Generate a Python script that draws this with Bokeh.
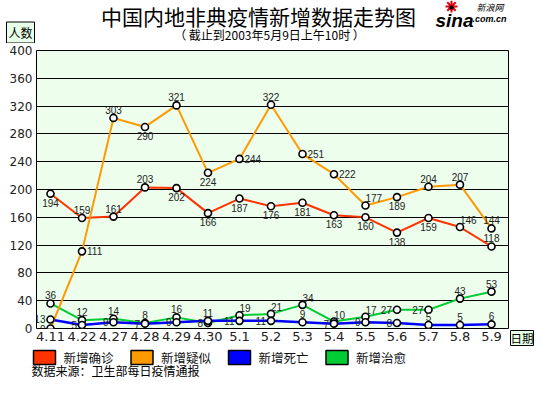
from bokeh.plotting import figure
from bokeh.layouts import column, row
from bokeh.models import Range1d, FixedTicker, Label, ColumnDataSource
from bokeh.embed import file_html
from bokeh.resources import INLINE
from bokeh.core.properties import value

# ---------------- data ----------------
dates = ["4.11", "4.22", "4.27", "4.28", "4.29", "4.30", "5.1", "5.2",
         "5.3", "5.4", "5.5", "5.6", "5.7", "5.8", "5.9"]
confirmed = [194, 159, 161, 203, 202, 166, 187, 176, 181, 163, 160, 138, 159, 146, 118]
suspected = [0, 111, 303, 290, 321, 224, 244, 322, 251, 222, 177, 189, 204, 207, 144]
deaths = [13, 5, 9, 7, 9, 11, 11, 11, 9, 7, 9, 8, 5, 5, 6]
recovered = [36, 12, 14, 8, 16, 8, 19, 21, 34, 10, 17, 27, 27, 43, 53]
y_ticks = [0, 40, 80, 120, 160, 200, 240, 280, 320, 360, 400]

series_names = ["新增确诊", "新增疑似", "新增死亡", "新增治愈"]
title_text = "中国内地非典疫情新增数据走势图"
subtitle_text = "（ 截止到2003年5月9日上午10时 ）"
source_text = "数据来源：卫生部每日疫情通报"
y_unit_text = "人数"
x_unit_text = "日期"

# value-label placement per point (style)
confirmed_pos = ["below", "above", "above", "above", "below", "below", "below", "below",
                 "below", "below", "below", "below", "below", "ar", "above"]
suspected_pos = ["left", "right", "above", "below", "above", "below", "right", "above",
                 "right", "right", "ar", "below", "above", "above", "above"]
deaths_pos = ["left", "left", "left", "left", "left", "above", "left", "left",
              "above", "left", "left", "left", "above", "above", "above"]
recovered_pos = ["above", "above", "above", "above", "above", "left", "ar", "ar",
                 "ar", "ar", "ar", "left", "left", "above", "above"]

colors = ["#FF3300", "#FF9900", "#0000FF", "#00CC33"]
BOX_FILL = "#E8FFE8"
TOTAL_W, TOTAL_H = 534, 379


def blank(width, height):
    f = figure(width=width, height=height, output_backend="svg", toolbar_location=None,
               x_range=Range1d(0, width), y_range=Range1d(height, 0),
               x_axis_type=None, y_axis_type=None,
               min_border=0, min_border_left=0, min_border_right=0,
               min_border_top=0, min_border_bottom=0)
    f.outline_line_color = None
    f.xgrid.visible = False
    f.ygrid.visible = False
    f.background_fill_color = "white"
    f.border_fill_color = "white"
    return f


def label(f, text, x, y, size, align="left", baseline="middle", font="Noto Sans CJK SC",
          style="normal", color="black", **kw):
    f.add_layout(Label(x=x, y=y, text=text, text_font_size=size, text_align=align,
                       text_baseline=baseline, text_font=font, text_font_style=style,
                       text_color=color, **kw))


# ---------------- header ----------------
HEAD_H = 43
head = blank(TOTAL_W, HEAD_H)
label(head, title_text, 258, 15, "21px", align="center")
label(head, subtitle_text, 269, 34, "12px", align="center")
label(head, y_unit_text, 20, 32, "12px", align="center", background_fill_color=BOX_FILL,
      border_line_color="black", padding=2)
# sina logo
head.scatter([451], [6], marker="asterisk", size=12, line_color="#E60012", line_width=2)
head.scatter([451], [7], marker="circle", size=5, fill_color="black", line_color="#E60012")
label(head, "sina", 435, 20, "19px", baseline="alphabetic", font="Liberation Sans",
      style="bold italic")
label(head, "新浪网", 476, 7, "9px", style="italic")
label(head, ".com.cn", 472, 18, "9px", baseline="alphabetic", font="Liberation Sans",
      style="bold italic")

# ---------------- main plot ----------------
FL, FR, FT, FB = 36, 1, 7, 20
FRAME_W, FRAME_H = 472, 278
MAIN_W, MAIN_H = FL + FRAME_W + FR, FT + FRAME_H + FB
p = figure(width=MAIN_W, height=MAIN_H, output_backend="svg", toolbar_location=None,
           x_range=Range1d(-0.444, 14.54), y_range=Range1d(0, 400),
           min_border_left=FL, min_border_right=FR, min_border_top=FT, min_border_bottom=FB)
p.background_fill_color = "#EDFEED"
p.border_fill_color = "white"
p.outline_line_color = "black"
p.outline_line_width = 1
p.xgrid.visible = False
p.ygrid.ticker = FixedTicker(ticks=y_ticks)
p.ygrid.grid_line_color = "black"
p.ygrid.grid_line_width = 1.2

p.yaxis.ticker = FixedTicker(ticks=y_ticks)
p.xaxis.ticker = FixedTicker(ticks=list(range(len(dates))))
p.xaxis.major_label_overrides = {i: d for i, d in enumerate(dates)}
for ax in (p.xaxis, p.yaxis):
    ax.axis_line_color = None
    ax.major_tick_line_color = None
    ax.minor_tick_line_color = None
    ax.major_tick_out = 0
    ax.major_tick_in = 0
    ax.major_label_text_font = "DejaVu Sans"
    ax.major_label_text_color = "#222222"
p.yaxis.major_label_text_font_size = "12px"
p.yaxis.major_label_standoff = 4
p.xaxis.major_label_text_font_size = "13px"
p.xaxis.major_label_standoff = 3

xs = list(range(len(dates)))
order = [3, 2, 0, 1]
all_vals = [confirmed, suspected, deaths, recovered]
all_pos = [confirmed_pos, suspected_pos, deaths_pos, recovered_pos]
widths = [2, 2, 2.5, 2]
for k in order:
    p.line(xs, all_vals[k], line_color=colors[k], line_width=widths[k])
for k in order:
    p.scatter(xs, all_vals[k], size=7, marker="circle", fill_color="white",
              line_color="black", line_width=1.6)

place = {
    "above": (0, -4, "center", "bottom"),
    "below": (0, 5, "center", "top"),
    "left": (-5, 0, "right", "middle"),
    "right": (5, 0, "left", "middle"),
    "ar": (0, -3, "left", "bottom"),
}
for k in order:
    for code, (dx, dy, al, bl) in place.items():
        idx = [i for i, c in enumerate(all_pos[k]) if c == code]
        if not idx:
            continue
        src = ColumnDataSource(dict(x=[xs[i] for i in idx],
                                    y=[all_vals[k][i] for i in idx],
                                    t=[str(all_vals[k][i]) for i in idx]))
        p.text(x="x", y="y", text="t", source=src, x_offset=dx, y_offset=dy,
               text_align=al, text_baseline=bl, text_font=value("Liberation Sans"),
               text_font_size="10px", text_color="#222222")

# ---------------- right strip with the x-unit box ----------------
SIDE_W = TOTAL_W - MAIN_W
side = blank(SIDE_W, MAIN_H)
can_unalign = "frame_align" in side.properties()
if can_unalign:
    # keep this strip's frame the full strip (no alignment with the main plot's frame)
    side.frame_align = False
    p.frame_align = False
    box_top = FT + FRAME_H + 2
else:
    # frame is aligned with the main plot: use frame-local coordinates
    side.y_range = Range1d(FT + FRAME_H, FT)
    box_top = FT + FRAME_H - 15
side.quad(left=[1], right=[SIDE_W - 1], top=[box_top], bottom=[box_top + 15],
          fill_color=BOX_FILL, line_color="black", line_width=1)
side.text(x=[SIDE_W / 2], y=[box_top + 7.5], text=[x_unit_text],
          text_font=value("Noto Sans CJK SC"), text_font_size="11.5px",
          text_align="center", text_baseline="middle", text_color="black")

# ---------------- footer: legend + source ----------------
FOOT_H = TOTAL_H - HEAD_H - MAIN_H
foot = blank(TOTAL_W, FOOT_H)
n = len(series_names)
sw_left = [33 + i * 97.5 for i in range(n)]
foot.quad(left=sw_left, right=[v + 22 for v in sw_left], top=[2] * n, bottom=[16] * n,
          fill_color=colors, line_color="black", line_width=1.5)
foot.text(x=[v + 30 for v in sw_left], y=[9] * n, text=series_names,
          text_font=value("Noto Sans CJK SC"), text_font_size="12.5px",
          text_baseline="middle", text_color="#111111")
label(foot, source_text, 31, 22, "12px")

layout = column(head, row(p, side), foot)
open("out.html", "w").write(file_html(layout, INLINE))
